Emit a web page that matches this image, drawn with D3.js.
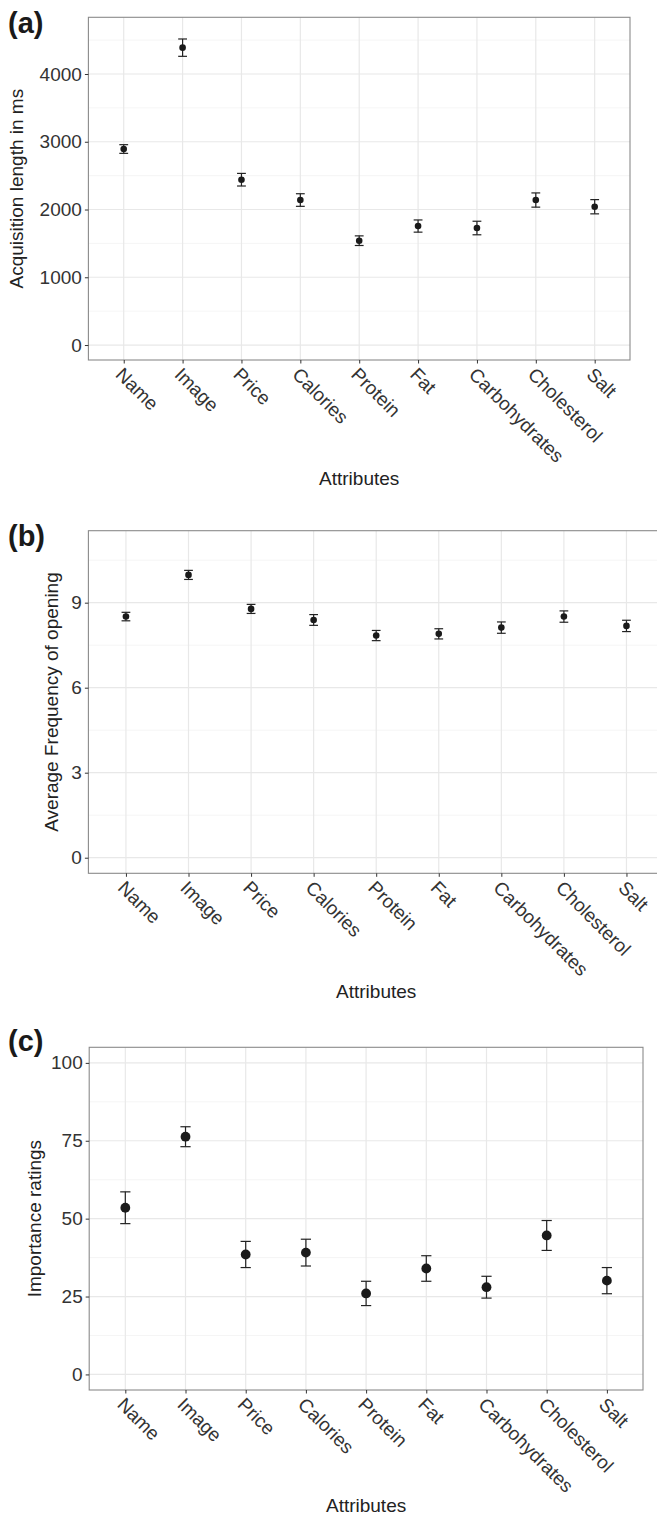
<!DOCTYPE html>
<html>
<head>
<meta charset="utf-8">
<script src="https://cdn.jsdelivr.net/npm/d3@7"></script>
<style>
  html, body { margin: 0; padding: 0; background: #fff; }
  svg { display: block; font-family: "Liberation Sans", Arial, Helvetica, sans-serif; }
</style>
</head>
<body>
<svg id="chart" width="657" height="1517"></svg>
<script>
// ---------- data ----------
const categories = ["Name", "Image", "Price", "Calories", "Protein", "Fat", "Carbohydrates", "Cholesterol", "Salt"];

const acquisitionMean = [2893, 4389, 2440, 2140, 1540, 1756, 1727, 2140, 2041];
const acquisitionErr  = [64, 128, 93, 93, 71, 90, 100, 105, 105];
const acquisitionTicks = [0, 1000, 2000, 3000, 4000];
const acquisitionMinor = [500, 1500, 2500, 3500, 4500];

const frequencyMean = [8.51, 9.98, 8.78, 8.39, 7.84, 7.90, 8.12, 8.51, 8.18];
const frequencyErr  = [0.15, 0.16, 0.16, 0.19, 0.18, 0.18, 0.20, 0.20, 0.20];
const frequencyTicks = [0, 3, 6, 9];
const frequencyMinor = [1.5, 4.5, 7.5, 10.5];

const importanceMean = [53.5, 76.3, 38.5, 39.1, 26.0, 34.0, 28.0, 44.6, 30.1];
const importanceErr  = [5.1, 3.2, 4.2, 4.3, 3.9, 4.1, 3.5, 4.8, 4.2];
const importanceTicks = [0, 25, 50, 75, 100];
const importanceMinor = [12.5, 37.5, 62.5, 87.5];

// ---------- panel layout ----------
const panels = [
  { letter: "(a)", letterY: 33, left: 88.4, right: 630, top: 17.3, bottom: 360,
    domain: [-221, 4837], mean: acquisitionMean, err: acquisitionErr,
    ticks: acquisitionTicks, minor: acquisitionMinor, xtitleGap: 125,
    ytitle: "Acquisition length in ms", ytitleX: 23, r: 3.3, cap: 0.15 },
  { letter: "(b)", letterY: 546, left: 88.4, right: 664, top: 530.7, bottom: 873.3,
    domain: [-0.55, 11.54], mean: frequencyMean, err: frequencyErr,
    ticks: frequencyTicks, minor: frequencyMinor, xtitleGap: 125,
    ytitle: "Average Frequency of opening", ytitleX: 58, r: 3.3, cap: 0.14 },
  { letter: "(c)", letterY: 1051, left: 89.2, right: 643, top: 1047.3, bottom: 1390,
    domain: [-5, 105], mean: importanceMean, err: importanceErr,
    ticks: importanceTicks, minor: importanceMinor, xtitleGap: 122,
    ytitle: "Importance ratings", ytitleX: 41, r: 4.9, cap: 0.17 }
];

const svg = d3.select("#chart");
const FS = 19;
const tickColor = "#333";
const textColor = "#222";

panels.forEach(p => {
  const g = svg.append("g");
  const x = d3.scalePoint().domain(categories).range([p.left, p.right]).padding(0.6);
  const y = d3.scaleLinear().domain(p.domain).range([p.bottom, p.top]);
  const step = x.step();

  // minor grid
  g.selectAll(".minor").data(p.minor).enter().append("line")
    .attr("x1", p.left).attr("x2", p.right)
    .attr("y1", d => y(d)).attr("y2", d => y(d))
    .attr("stroke", "#f3f3f3").attr("stroke-width", 0.8);
  // major grid horizontal
  g.selectAll(".major").data(p.ticks).enter().append("line")
    .attr("x1", p.left).attr("x2", p.right)
    .attr("y1", d => y(d)).attr("y2", d => y(d))
    .attr("stroke", "#e8e8e8").attr("stroke-width", 1.2);
  // major grid vertical
  g.selectAll(".vgrid").data(categories).enter().append("line")
    .attr("x1", d => x(d)).attr("x2", d => x(d))
    .attr("y1", p.top).attr("y2", p.bottom)
    .attr("stroke", "#e8e8e8").attr("stroke-width", 1.2);

  // panel border
  g.append("rect")
    .attr("x", p.left).attr("y", p.top)
    .attr("width", p.right - p.left).attr("height", p.bottom - p.top)
    .attr("fill", "none").attr("stroke", "#8a8a8a").attr("stroke-width", 1.1);

  // y axis
  const yAxis = d3.axisLeft(y).tickValues(p.ticks).tickSize(3.5).tickPadding(3).tickFormat(d3.format("d"));
  const ya = g.append("g").attr("transform", `translate(${p.left},0)`).call(yAxis);
  ya.select(".domain").remove();
  ya.selectAll(".tick line").attr("stroke", tickColor).attr("stroke-width", 1);
  ya.selectAll(".tick text").attr("fill", tickColor).style("font-size", FS + "px")
    .style("font-family", "'Liberation Sans', Arial, sans-serif");

  // x axis
  const xAxis = d3.axisBottom(x).tickSize(3.5).tickPadding(0);
  const xa = g.append("g").attr("transform", `translate(0,${p.bottom})`).call(xAxis);
  xa.select(".domain").remove();
  xa.selectAll(".tick line").attr("stroke", tickColor).attr("stroke-width", 1);
  xa.selectAll(".tick text")
    .attr("fill", tickColor).style("font-size", FS + "px")
    .style("font-family", "'Liberation Sans', Arial, sans-serif")
    .attr("text-anchor", "start")
    .attr("x", 0).attr("y", 0).attr("dy", "0.72em")
    .attr("transform", "translate(0,6) rotate(45)");

  // error bars
  const data = categories.map((c, i) => ({ c, m: p.mean[i], e: p.err[i] }));
  const eb = g.selectAll(".eb").data(data).enter().append("g");
  const capHalf = p.cap * step / 2;
  eb.append("line")
    .attr("x1", d => x(d.c)).attr("x2", d => x(d.c))
    .attr("y1", d => y(d.m - d.e)).attr("y2", d => y(d.m + d.e))
    .attr("stroke", "#222").attr("stroke-width", 1.2);
  eb.append("line")
    .attr("x1", d => x(d.c) - capHalf).attr("x2", d => x(d.c) + capHalf)
    .attr("y1", d => y(d.m + d.e)).attr("y2", d => y(d.m + d.e))
    .attr("stroke", "#222").attr("stroke-width", 1.2);
  eb.append("line")
    .attr("x1", d => x(d.c) - capHalf).attr("x2", d => x(d.c) + capHalf)
    .attr("y1", d => y(d.m - d.e)).attr("y2", d => y(d.m - d.e))
    .attr("stroke", "#222").attr("stroke-width", 1.2);
  // points
  g.selectAll(".pt").data(data).enter().append("circle")
    .attr("cx", d => x(d.c)).attr("cy", d => y(d.m)).attr("r", p.r)
    .attr("fill", "#1a1a1a");

  // axis titles
  g.append("text")
    .attr("x", (p.left + p.right) / 2).attr("y", p.bottom + p.xtitleGap)
    .attr("text-anchor", "middle").attr("fill", textColor)
    .style("font-size", FS + "px").text("Attributes");
  g.append("text")
    .attr("transform", `translate(${p.ytitleX},${(p.top + p.bottom) / 2}) rotate(-90)`)
    .attr("text-anchor", "middle").attr("fill", textColor)
    .style("font-size", FS + "px").text(p.ytitle);

  // panel letter
  g.append("text")
    .attr("x", 8).attr("y", p.letterY)
    .attr("fill", "#1a1a1a").style("font-size", "29px").style("font-weight", "bold")
    .text(p.letter);
});
</script>
</body>
</html>
